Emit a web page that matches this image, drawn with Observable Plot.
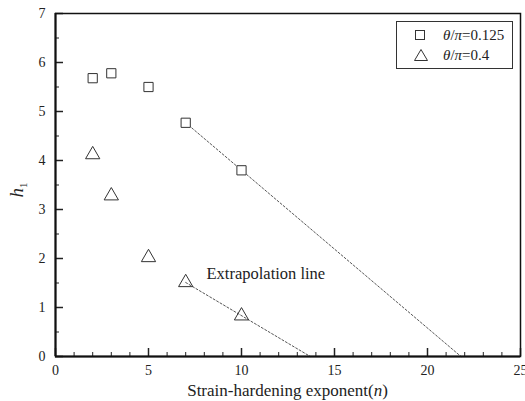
<!DOCTYPE html>
<html><head><meta charset="utf-8">
<script src="https://cdn.jsdelivr.net/npm/d3@7"></script>
<script src="https://cdn.jsdelivr.net/npm/@observablehq/plot@0.6"></script>
<style>
body{margin:0;background:#fff;}
#wrap{position:relative;width:525px;height:401px;font-family:"Liberation Serif","Times New Roman",serif;}
#wrap svg text{font-family:"Liberation Serif","Times New Roman",serif;}
#legend{position:absolute;left:396px;top:21px;width:117px;height:48px;border:1px solid #333;background:#fff;box-sizing:border-box;font-size:15px;color:#222;}
.row{position:absolute;left:0;height:20px;line-height:20px;}
.row svg{position:absolute;left:16px;top:3px;}
.row span{position:absolute;left:46px;white-space:nowrap;}
</style></head>
<body><div id="wrap"></div>
<script>
const nValues = [2, 3, 5, 7, 10];
const h125 = [5.68, 5.78, 5.50, 4.77, 3.80];
const h04 = [4.12, 3.28, 2.02, 1.51, 0.83];
const extrapN125 = [7, 21.8];
const extrapH125 = [4.77, 0];
const extrapN04 = [7, 13.7];
const extrapH04 = [1.51, 0];
const xTicks = [0, 5, 10, 15, 20, 25];
const xMinor = d3.range(0, 25, 1);
const yTicks = [0, 1, 2, 3, 4, 5, 6, 7];
const yMinor = d3.range(0.5, 7, 1);
const labels = ["θ/π=0.125", "θ/π=0.4"];

const W = 525, H = 401, mL = 55, mR = 5, mT = 13, mB = 45;
const iw = W - mL - mR, ih = H - mT - mB;
const serif = "'Liberation Serif', 'Times New Roman', serif";

const sq = nValues.map((n, i) => ({n, h: h125[i]}));
const tr = nValues.map((n, i) => ({n, h: h04[i]}));
const l1 = extrapN125.map((n, i) => ({n, h: extrapH125[i]}));
const l2 = extrapN04.map((n, i) => ({n, h: extrapH04[i]}));

const chart = Plot.plot({
  width: W, height: H,
  marginLeft: mL, marginRight: mR, marginTop: mT, marginBottom: mB,
  style: {fontFamily: serif, fontSize: "14px", color: "#222", background: "white", overflow: "visible"},
  x: {domain: [0, 25]},
  y: {domain: [0, 7]},
  marks: [
    Plot.line(l1, {x: "n", y: "h", stroke: "#555", strokeWidth: 1, strokeDasharray: "2,2"}),
    Plot.line(l2, {x: "n", y: "h", stroke: "#555", strokeWidth: 1, strokeDasharray: "2,2"}),
    Plot.dot(sq, {x: "n", y: "h", symbol: "square", r: 5.2, stroke: "#333", strokeWidth: 1, fill: "white"}),
    Plot.dot(tr, {x: "n", y: "h", symbol: "triangle", r: 5.3, stroke: "#333", strokeWidth: 1, fill: "none"}),
    Plot.text(["Extrapolation line"], {frameAnchor: "top-left", dx: 151, dy: 254, text: d => d, fontSize: 16.5, fontFamily: serif, textAnchor: "start", fill: "#222"}),
    Plot.tickX(xTicks, {x: d => d, stroke: "#222", strokeWidth: 1.5, insetTop: ih - 8}),
    Plot.tickX(xMinor, {x: d => d, stroke: "#222", strokeWidth: 1, insetTop: ih - 4}),
    Plot.tickY(yTicks, {y: d => d, stroke: "#222", strokeWidth: 1.5, insetRight: iw - 8}),
    Plot.tickY(yMinor, {y: d => d, stroke: "#222", strokeWidth: 1, insetRight: iw - 4}),
    Plot.axisX(xTicks, {tickSize: 0, tickPadding: 9, fontSize: 14, fontFamily: serif, fill: "#222", label: null}),
    Plot.axisY(yTicks, {tickSize: 0, tickPadding: 10, fontSize: 14, fontFamily: serif, fill: "#222", label: null}),
    Plot.frame({stroke: "#111", strokeWidth: 1.5}),
    Plot.ruleX([0], {stroke: "#111", strokeWidth: 2}),
    Plot.ruleY([0], {stroke: "#111", strokeWidth: 2})
  ]
});
document.getElementById("wrap").appendChild(chart);

const svg = d3.select(chart);
svg.append("text").attr("x", mL + iw / 2).attr("y", 396).attr("text-anchor", "middle")
  .attr("font-size", 17).attr("fill", "#222")
  .html('Strain-hardening exponent(<tspan font-style="italic">n</tspan>)');
const yl = svg.append("text").attr("transform", "translate(23,190) rotate(-90)")
  .attr("text-anchor", "middle").attr("font-size", 19).attr("fill", "#222");
yl.append("tspan").attr("font-style", "italic").text("h");
yl.append("tspan").attr("font-size", 11).attr("dy", 4).text("1");

const lg = document.createElement("div");
lg.id = "legend";
lg.innerHTML = `
<div class="row" style="top:3px"><svg width="14" height="14"><rect x="2.5" y="2.5" width="9" height="9" fill="none" stroke="#333"/></svg><span><i>θ</i>/<i>π</i>=0.125</span></div>
<div class="row" style="top:23px"><svg width="16" height="14"><path d="M8,1.5 L14.5,12.5 L1.5,12.5 Z" fill="none" stroke="#333"/></svg><span><i>θ</i>/<i>π</i>=0.4</span></div>`;
document.getElementById("wrap").appendChild(lg);
</script>
</body></html>
